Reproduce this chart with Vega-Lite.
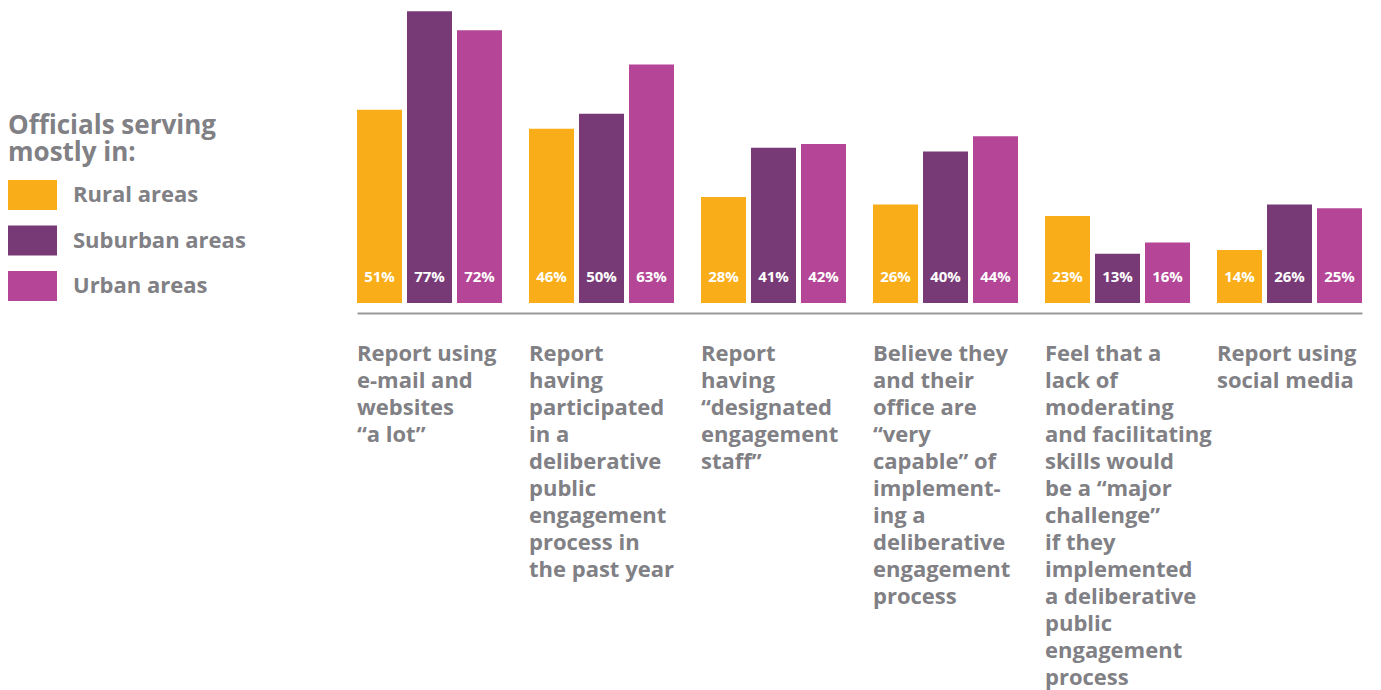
{
  "$schema": "https://vega.github.io/schema/vega-lite/v6.json",
  "width": 1005,
  "height": 303,
  "autosize": {"type": "none"},
  "padding": {"left": 357, "top": 0, "right": 19, "bottom": 387},
  "background": "white",
  "config": {
    "view": {"stroke": null},
    "font": "Open Sans"
  },
  "data": {
    "values": [
      {"q": "Report using|e-mail and|websites|“a lot”", "area": "Rural areas", "v": 51},
      {"q": "Report using|e-mail and|websites|“a lot”", "area": "Suburban areas", "v": 77},
      {"q": "Report using|e-mail and|websites|“a lot”", "area": "Urban areas", "v": 72},
      {"q": "Report|having|participated|in a|deliberative|public|engagement|process in|the past year", "area": "Rural areas", "v": 46},
      {"q": "Report|having|participated|in a|deliberative|public|engagement|process in|the past year", "area": "Suburban areas", "v": 50},
      {"q": "Report|having|participated|in a|deliberative|public|engagement|process in|the past year", "area": "Urban areas", "v": 63},
      {"q": "Report|having|“designated|engagement|staff”", "area": "Rural areas", "v": 28},
      {"q": "Report|having|“designated|engagement|staff”", "area": "Suburban areas", "v": 41},
      {"q": "Report|having|“designated|engagement|staff”", "area": "Urban areas", "v": 42},
      {"q": "Believe they|and their|office are|“very|capable” of|implement-|ing a|deliberative|engagement|process", "area": "Rural areas", "v": 26},
      {"q": "Believe they|and their|office are|“very|capable” of|implement-|ing a|deliberative|engagement|process", "area": "Suburban areas", "v": 40},
      {"q": "Believe they|and their|office are|“very|capable” of|implement-|ing a|deliberative|engagement|process", "area": "Urban areas", "v": 44},
      {"q": "Feel that a|lack of|moderating|and facilitating|skills would|be a “major|challenge”|if they|implemented|a deliberative|public|engagement|process", "area": "Rural areas", "v": 23},
      {"q": "Feel that a|lack of|moderating|and facilitating|skills would|be a “major|challenge”|if they|implemented|a deliberative|public|engagement|process", "area": "Suburban areas", "v": 13},
      {"q": "Feel that a|lack of|moderating|and facilitating|skills would|be a “major|challenge”|if they|implemented|a deliberative|public|engagement|process", "area": "Urban areas", "v": 16},
      {"q": "Report using|social media", "area": "Rural areas", "v": 14},
      {"q": "Report using|social media", "area": "Suburban areas", "v": 26},
      {"q": "Report using|social media", "area": "Urban areas", "v": 25}
    ]
  },
  "encoding": {
    "x": {
      "field": "q", "type": "nominal", "sort": null,
      "scale": {"paddingInner": 0.157, "paddingOuter": 0},
      "axis": {
        "title": null,
        "labelExpr": "split(datum.label, '|')",
        "labelAngle": 0,
        "labelAlign": "left",
        "labelBaseline": "top",
        "labelOffset": -72.5,
        "labelPadding": 30,
        "labelFont": "Open Sans",
        "labelFontSize": 22,
        "labelFontWeight": "bold",
        "labelColor": "#808085",
        "labelLineHeight": 27,
        "labelLimit": 0,
        "labelOverlap": false,
        "labelBound": false,
        "ticks": false,
        "domainColor": "#9a9a9a",
        "domainWidth": 2,
        "offset": 10
      }
    },
    "xOffset": {
      "field": "area", "type": "nominal",
      "sort": ["Rural areas", "Suburban areas", "Urban areas"],
      "scale": {"paddingInner": 0.1, "paddingOuter": 0}
    }
  },
  "layer": [
    {
      "mark": {"type": "bar"},
      "encoding": {
        "y": {"field": "v", "type": "quantitative", "scale": {"domain": [0, 80], "nice": false}, "axis": null},
        "color": {
          "field": "area", "type": "nominal",
          "scale": {"domain": ["Rural areas", "Suburban areas", "Urban areas"], "range": ["#F9AE19", "#783A76", "#B54596"]},
          "legend": {
            "title": ["Officials serving", "mostly in:"],
            "orient": "none",
            "legendX": -349,
            "legendY": 113,
            "padding": 0,
            "titleFont": "Open Sans",
            "titleFontSize": 26,
            "titleFontWeight": "bold",
            "titleColor": "#808085",
            "titleLineHeight": 27,
            "titleLimit": 0,
            "titlePadding": 14,
            "symbolType": "M-1,-1H2.267V1H-1Z",
            "symbolSize": 900,
            "symbolStrokeWidth": 0,
            "symbolOpacity": 1,
            "labelFont": "Open Sans",
            "labelFontSize": 22,
            "labelFontWeight": "bold",
            "labelColor": "#808085",
            "labelOffset": 35,
            "labelLimit": 0,
            "rowPadding": 15.5
          }
        }
      }
    },
    {
      "transform": [{"calculate": "datum.v + '%'", "as": "lab"}],
      "mark": {"type": "text", "color": "white", "font": "Open Sans", "fontSize": 15, "fontWeight": "bold", "baseline": "middle", "dy": -26},
      "encoding": {
        "y": {"datum": 0, "type": "quantitative"},
        "text": {"field": "lab", "type": "nominal"},
        "detail": {"field": "area"}
      }
    }
  ]
}
